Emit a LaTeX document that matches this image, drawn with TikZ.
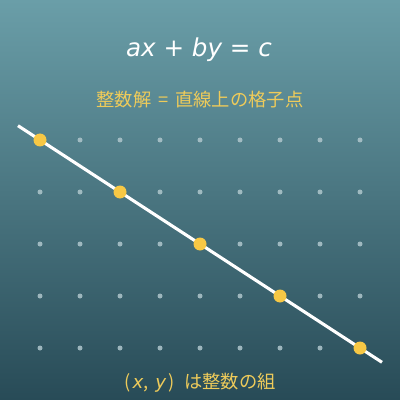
\documentclass[tikz,border=0pt]{standalone}
\usepackage{fontspec}
\setmainfont{DejaVu Sans}
\newfontfamily\jpfont{Noto Sans CJK JP}
\newfontfamily\varfont{DejaVu Sans Oblique}
\usepackage{xcolor}
\definecolor{bgtop}{HTML}{6A9EA8}
\definecolor{bgbottom}{HTML}{284B57}
\definecolor{dotgold}{HTML}{F7C845}
\definecolor{textgold}{HTML}{EECB5A}
\definecolor{gridgray}{HTML}{AFC6CC}
\begin{document}
\begin{tikzpicture}[x=0.025cm,y=-0.025cm]
		\tikzstyle{every node}+=[inner sep=0pt]
		\tikzstyle{latticept}=[fill=gridgray, fill opacity=0.85]
		\tikzstyle{solutionpt}=[fill=dotgold]
		\useasboundingbox (0,0) rectangle (400,400);
		\shade [top color=bgtop, bottom color=bgbottom] (0,0) rectangle (400,400);
		% title and subtitle
		\node [text=white, font=\fontsize{17.5}{20}\selectfont] (title) at (199,50) {{\varfont ax} + {\varfont by} = {\varfont c}};
		\node [text=textgold, font=\jpfont\fontsize{13}{15}\selectfont] (subtitle) at (200,100) {整数解\hspace{2pt} = \hspace{2pt}直線上の格子点};
		% lattice
		\foreach \i in {1,...,9}
			\foreach \j in {0,...,4}
				\fill [latticept] (40*\i,140+52*\j) circle (2.5);
		% line
		\coordinate (lstart) at (18,125.7);
		\coordinate (lend) at (382,362.3);
		\draw [white, line width=2.2pt] (lstart) -- (lend);
		% integer solutions
		\fill [solutionpt] (40,140) circle (6.5);
		\fill [solutionpt] (120,192) circle (6.5);
		\fill [solutionpt] (200,244) circle (6.5);
		\fill [solutionpt] (280,296) circle (6.5);
		\fill [solutionpt] (360,348) circle (6.5);
		% caption
		\node [text=textgold, font=\jpfont\fontsize{13}{15}\selectfont] (caption) at (200,383) {(\hspace{1.5pt}{\varfont x}, \hspace{2pt}{\varfont y}\hspace{1.5pt})\hspace{7pt}は整数の組};
	\end{tikzpicture}
\end{document}
